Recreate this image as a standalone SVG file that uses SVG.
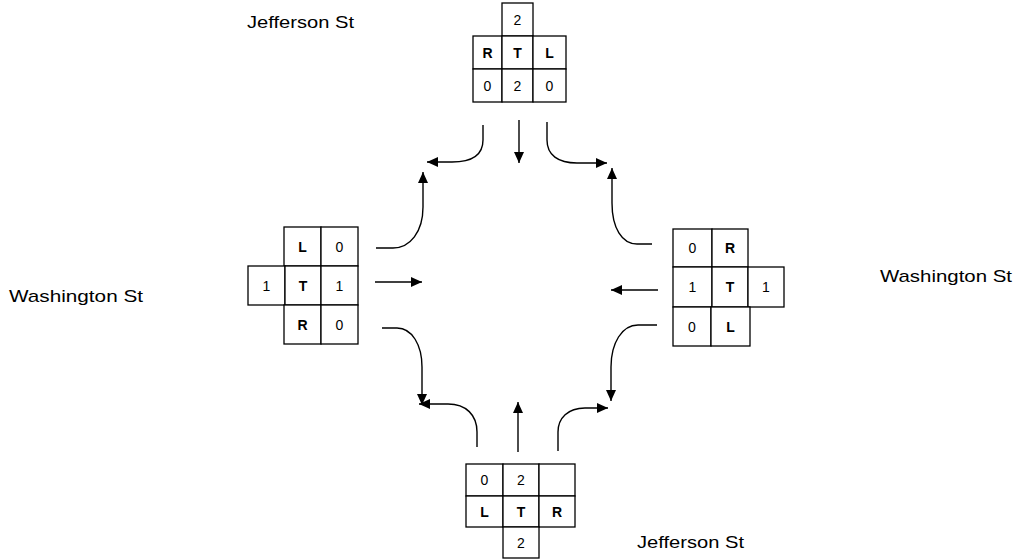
<svg xmlns="http://www.w3.org/2000/svg" width="1019" height="559" viewBox="0 0 1019 559">
<style>
.cell{fill:#fff;stroke:#000;stroke-width:1.3}
.t{font-family:"Liberation Sans",Arial,sans-serif;font-size:14px;text-anchor:middle;fill:#000}
.b{font-weight:bold}
.lbl{font-family:"Liberation Sans",Arial,sans-serif;font-size:17px;fill:#000}
.c{fill:none;stroke:#000;stroke-width:1.4}
</style>
<defs>
<marker id="ah" markerUnits="userSpaceOnUse" markerWidth="11" markerHeight="10" refX="11" refY="5" orient="auto">
<path d="M0,0 L11,5 L0,10 z" fill="#000"/>
</marker>
</defs>
<rect width="1019" height="559" fill="#fff"/>

<g id="label-jefferson-top"><text class="lbl" x="247" y="28" textLength="107" lengthAdjust="spacingAndGlyphs">Jefferson St</text></g>
<g id="label-washington-left"><text class="lbl" x="9" y="302" textLength="134" lengthAdjust="spacingAndGlyphs">Washington St</text></g>
<g id="label-washington-right"><text class="lbl" x="880" y="282" textLength="132" lengthAdjust="spacingAndGlyphs">Washington St</text></g>
<g id="label-jefferson-bottom"><text class="lbl" x="637" y="548" textLength="107" lengthAdjust="spacingAndGlyphs">Jefferson St</text></g>

<g id="node-top">
<rect class="cell" x="502" y="3" width="31" height="33"/>
<rect class="cell" x="473" y="36" width="29" height="33"/>
<rect class="cell" x="502" y="36" width="31" height="33"/>
<rect class="cell" x="533" y="36" width="33" height="33"/>
<rect class="cell" x="473" y="69" width="29" height="33"/>
<rect class="cell" x="502" y="69" width="31" height="33"/>
<rect class="cell" x="533" y="69" width="33" height="33"/>
<text class="t" x="517.5" y="24.5">2</text>
<text class="t b" x="487.5" y="57.5">R</text>
<text class="t b" x="517.5" y="57.5">T</text>
<text class="t b" x="549.5" y="57.5">L</text>
<text class="t" x="487.5" y="90.5">0</text>
<text class="t" x="517.5" y="90.5">2</text>
<text class="t" x="549.5" y="90.5">0</text>
</g>

<g id="node-left">
<rect class="cell" x="284" y="227" width="37" height="39"/>
<rect class="cell" x="321" y="227" width="37" height="39"/>
<rect class="cell" x="248" y="266" width="37" height="39"/>
<rect class="cell" x="285" y="266" width="36" height="39"/>
<rect class="cell" x="321" y="266" width="37" height="39"/>
<rect class="cell" x="284" y="305" width="37" height="39"/>
<rect class="cell" x="321" y="305" width="37" height="39"/>
<text class="t b" x="302.5" y="251.5">L</text>
<text class="t" x="339.5" y="251.5">0</text>
<text class="t" x="266.5" y="290.5">1</text>
<text class="t b" x="303" y="290.5">T</text>
<text class="t" x="339.5" y="290.5">1</text>
<text class="t b" x="302.5" y="329.5">R</text>
<text class="t" x="339.5" y="329.5">0</text>
</g>

<g id="node-right">
<rect class="cell" x="673" y="229" width="39" height="38"/>
<rect class="cell" x="712" y="229" width="36" height="38"/>
<rect class="cell" x="673" y="267" width="39" height="40"/>
<rect class="cell" x="712" y="267" width="36" height="40"/>
<rect class="cell" x="748" y="267" width="36" height="40"/>
<rect class="cell" x="673" y="307" width="38" height="39"/>
<rect class="cell" x="711" y="307" width="39" height="39"/>
<text class="t" x="692.5" y="253">0</text>
<text class="t b" x="730" y="253">R</text>
<text class="t" x="692.5" y="292">1</text>
<text class="t b" x="730" y="292">T</text>
<text class="t" x="766" y="292">1</text>
<text class="t" x="692" y="331.5">0</text>
<text class="t b" x="730.5" y="331.5">L</text>
</g>

<g id="node-bottom">
<rect class="cell" x="466" y="464" width="37" height="32"/>
<rect class="cell" x="503" y="464" width="36" height="32"/>
<rect class="cell" x="539" y="464" width="36" height="32"/>
<rect class="cell" x="466" y="496" width="37" height="31"/>
<rect class="cell" x="503" y="496" width="36" height="31"/>
<rect class="cell" x="539" y="496" width="36" height="31"/>
<rect class="cell" x="503" y="527" width="36" height="31"/>
<text class="t" x="484.5" y="485">0</text>
<text class="t" x="521" y="485">2</text>
<text class="t b" x="484.5" y="516.5">L</text>
<text class="t b" x="521" y="516.5">T</text>
<text class="t b" x="557" y="516.5">R</text>
<text class="t" x="521" y="547.5">2</text>
</g>

<g id="connectors">
<!-- from top -->
<path class="c" marker-end="url(#ah)" d="M483,125 V140 C483,155 472,162 452,162 H427"/>
<path class="c" marker-end="url(#ah)" d="M519,120 V163"/>
<path class="c" marker-end="url(#ah)" d="M547,122 V140 C547,155 558,163 577,163 H607"/>
<!-- from left -->
<path class="c" marker-end="url(#ah)" d="M376,248 H393 C410,248 423,232 423,207 V172"/>
<path class="c" marker-end="url(#ah)" d="M375,282 H422"/>
<path class="c" marker-end="url(#ah)" d="M382,328 H397 C412,328 422,345 422,367 V405"/>
<!-- from right -->
<path class="c" marker-end="url(#ah)" d="M652,244 H637 C622,244 612,228 612,203 V168"/>
<path class="c" marker-end="url(#ah)" d="M658,290 H611"/>
<path class="c" marker-end="url(#ah)" d="M657,325 H638 C622,325 611,343 611,367 V401"/>
<!-- from bottom -->
<path class="c" marker-end="url(#ah)" d="M477,447 V432 C477,415 466,404 448,404 H419"/>
<path class="c" marker-end="url(#ah)" d="M518,452 V402"/>
<path class="c" marker-end="url(#ah)" d="M558,451 V432 C558,418 568,408 585,408 H608"/>
</g>
</svg>
